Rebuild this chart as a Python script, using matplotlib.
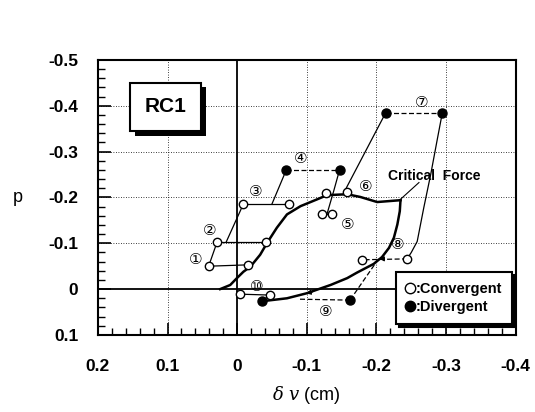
import matplotlib
matplotlib.use('Agg')
import matplotlib.pyplot as plt
import matplotlib.patheffects as pe
from matplotlib.lines import Line2D
from matplotlib.ticker import MultipleLocator

plt.rcParams['font.family'] = ['Liberation Sans', 'DejaVu Sans']
plt.rcParams['mathtext.fontset'] = 'dejavuserif'

# skeleton curve (critical force), upper branch
upper_x = [0.0245, 0.010, 0.0004, -0.009, -0.019, -0.033, -0.043, -0.057, -0.0715,
           -0.091, -0.115, -0.129, -0.158, -0.177, -0.201, -0.2345]
upper_y = [0.0, -0.009, -0.024, -0.038, -0.049, -0.075, -0.101, -0.134, -0.163,
           -0.181, -0.196, -0.205, -0.207, -0.201, -0.190, -0.194]
# lower branch
lower_x = [-0.2345, -0.2335, -0.230, -0.225, -0.218, -0.208, -0.196, -0.172, -0.158,
           -0.134, -0.100, -0.0715, -0.038]
lower_y = [-0.194, -0.170, -0.141, -0.112, -0.090, -0.070, -0.055, -0.036, -0.024,
           -0.009, 0.009, 0.020, 0.026]

# load-step paths (thin solid)
steps_solid = [
    ([0.041, -0.016], [-0.050, -0.053]),            # 1
    ([0.041, 0.029], [-0.050, -0.102]),             # 1 -> 2
    ([0.029, -0.042], [-0.102, -0.102]),            # 2
    ([0.016, -0.009], [-0.102, -0.186]),            # 2 -> 3
    ([-0.009, -0.075], [-0.186, -0.186]),           # 3
    ([-0.050, -0.0705], [-0.186, -0.260]),          # 3 -> 4
    ([-0.147, -0.1386, -0.129], [-0.260, -0.214, -0.164]),  # 4 -> 5
    ([-0.122, -0.136], [-0.164, -0.164]),           # 5
    ([-0.213, -0.153], [-0.384, -0.210]),           # 7 -> 6
    ([-0.2945, -0.287, -0.278, -0.268, -0.2585, -0.250, -0.244],
     [-0.384, -0.324, -0.251, -0.178, -0.104, -0.080, -0.066]),  # 7 -> 8
    ([-0.004, -0.0475], [0.011, 0.013]),            # 10
    ([-0.0355, -0.0475], [0.026, 0.013]),
]
# load-step paths (dashed)
steps_dashed = [
    ([-0.0705, -0.147], [-0.260, -0.260]),          # 4
    ([-0.213, -0.2945], [-0.384, -0.384]),          # 7
    ([-0.244, -0.179], [-0.066, -0.064]),           # 8
    ([-0.203, -0.162], [-0.066, 0.024]),            # 8 -> 9
    ([-0.162, -0.090], [0.024, 0.022]),             # 9
]

conv_x = [0.041, -0.016, 0.029, -0.042, -0.009, -0.075, -0.122, -0.136, -0.128, -0.157,
          -0.244, -0.179, -0.004, -0.0475]
conv_y = [-0.050, -0.053, -0.102, -0.102, -0.186, -0.186, -0.164, -0.164, -0.209, -0.212,
          -0.066, -0.064, 0.011, 0.013]
div_x = [-0.0705, -0.147, -0.213, -0.2945, -0.162, -0.0355]
div_y = [-0.260, -0.260, -0.384, -0.384, 0.024, 0.026]

step_labels = ['①', '②', '③', '④', '⑤', '⑥', '⑦', '⑧', '⑨', '⑩']
label_x = [0.060, 0.039, -0.026, -0.091, -0.158, -0.184, -0.265, -0.230, -0.127, -0.028]
label_y = [-0.064, -0.128, -0.214, -0.286, -0.141, -0.224, -0.408, -0.097, 0.048, -0.005]

xticks = [0.2, 0.1, 0, -0.1, -0.2, -0.3, -0.4]
xticklabels = ['0.2', '0.1', '0', '-0.1', '-0.2', '-0.3', '-0.4']
yticks = [-0.5, -0.4, -0.3, -0.2, -0.1, 0, 0.1]
yticklabels = ['-0.5', '-0.4', '-0.3', '-0.2', '-0.1', '0', '0.1']

fig = plt.figure(figsize=(5.35, 4.12), dpi=100)
ax = fig.add_axes([0.183, 0.187, 0.781, 0.6675])
ax.set_xlim(0.2, -0.4)
ax.set_ylim(0.1, -0.5)

# grid and zero lines
for gx in [0.1, -0.1, -0.2, -0.3]:
    ax.axvline(gx, color='black', lw=0.6, ls=(0, (1, 2)), zorder=1)
for gy in [-0.4, -0.3, -0.2, -0.1]:
    ax.axhline(gy, color='black', lw=0.6, ls=(0, (1, 2)), zorder=1)
ax.axvline(0, color='black', lw=1.3, zorder=2)
ax.axhline(0, color='black', lw=1.3, zorder=2)

ax.plot(upper_x, upper_y, color='black', lw=1.8, zorder=3)
ax.plot(lower_x, lower_y, color='black', lw=1.8, zorder=3)
for sx, sy in steps_solid:
    ax.plot(sx, sy, color='black', lw=0.9, zorder=3)
for sx, sy in steps_dashed:
    ax.plot(sx, sy, color='black', lw=0.9, ls=(0, (4, 2)), zorder=3)

# arrow heads
ax.annotate('', xy=(-0.200, -0.066), xytext=(-0.215, -0.066),
            arrowprops=dict(arrowstyle='-|>', color='black', lw=0.8, mutation_scale=7), zorder=4)
ax.annotate('', xy=(-0.095, 0.0105), xytext=(-0.112, 0.005),
            arrowprops=dict(arrowstyle='-|>', color='black', lw=0.8, mutation_scale=7), zorder=4)

ax.plot(conv_x, conv_y, 'o', ms=6, mfc='white', mec='black', mew=1.0, zorder=5)
ax.plot(div_x, div_y, 'o', ms=6.5, mfc='black', mec='black', zorder=5)

for t, lx, ly in zip(step_labels, label_x, label_y):
    ax.text(lx, ly, t, fontsize=11, ha='center', va='center',
            family=['DejaVu Sans', 'Noto Sans CJK JP'], zorder=6)

# critical force label
ax.plot([-0.2345, -0.261], [-0.196, -0.2325], color='black', lw=0.8, zorder=3)
ax.text(-0.217, -0.247, 'Critical  Force', fontsize=10, fontweight='bold',
        ha='left', va='center', zorder=6)

# RC1 box with drop shadow
rc1 = ax.text(0.1025, -0.398, 'RC1', fontsize=15, fontweight='bold', ha='center', va='center',
              bbox=dict(boxstyle='square,pad=0.7', fc='white', ec='black', lw=1.5), zorder=7)
rc1.get_bbox_patch().set_path_effects([
    pe.SimplePatchShadow(offset=(3.5, -3.5), shadow_rgbFace='black', alpha=1), pe.Normal()])

# legend
handles = [Line2D([], [], ls='none', marker='o', ms=7.5, mfc='white', mec='black'),
           Line2D([], [], ls='none', marker='o', ms=7.5, mfc='black', mec='black')]
leg = ax.legend(handles, [':Convergent', ':Divergent'], loc='center',
                bbox_to_anchor=(0.852, 0.135), frameon=True, fancybox=False,
                edgecolor='black', handlelength=0.6, handletextpad=0.05,
                borderpad=0.7, labelspacing=0.25, borderaxespad=0,
                prop={'weight': 'bold', 'size': 10.5},
                shadow={'color': 'black', 'alpha': 1})
leg.get_frame().set_linewidth(1.5)
leg.set_zorder(8)

# axes styling
ax.set_xticks(xticks)
ax.set_xticklabels(xticklabels)
ax.set_yticks(yticks)
ax.set_yticklabels(yticklabels)
ax.xaxis.set_minor_locator(MultipleLocator(0.02))
ax.yaxis.set_minor_locator(MultipleLocator(0.02))
ax.tick_params(axis='both', which='major', direction='in', length=9, width=1.2,
               labelsize=12.5)
ax.tick_params(axis='x', which='major', pad=17)
ax.tick_params(axis='y', which='major', pad=14)
ax.tick_params(axis='both', which='minor', direction='in', length=5, width=1.0)
ax.tick_params(top=False, right=False, which='both')
for lab in ax.get_xticklabels() + ax.get_yticklabels():
    lab.set_fontweight('bold')
for sp in ax.spines.values():
    sp.set_linewidth(1.5)

fig.text(18 / 535, 1 - 197 / 412, 'p', fontsize=13, ha='center', va='center')
fig.text(0.573, 0.041, r'$\delta\ v$ (cm)', fontsize=13, ha='center', va='center')

fig.savefig('out.png', dpi=100)
